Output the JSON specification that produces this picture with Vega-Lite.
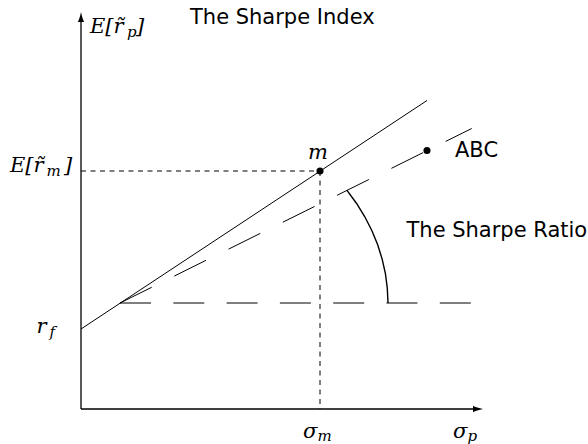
{
  "$schema": "https://vega.github.io/schema/vega-lite/v6.json",
  "width": 588,
  "height": 444,
  "autosize": {"type": "none"},
  "padding": 0,
  "background": "white",
  "config": {"view": {"stroke": null}},
  "datasets": {
    "axes": [
      {"axis": "vertical", "o": 0, "x": 0, "y": 0},
      {"axis": "vertical", "o": 1, "x": 0, "y": 389},
      {"axis": "horizontal", "o": 0, "x": 0, "y": 0},
      {"axis": "horizontal", "o": 1, "x": 394, "y": 0}
    ],
    "arrowheads": [
      {"axis": "vertical", "x": 0, "y": 397},
      {"axis": "horizontal", "x": 402, "y": 0}
    ],
    "capitalMarketLine": [
      {"o": 0, "x": 0, "y": 80},
      {"o": 1, "x": 346, "y": 308.5}
    ],
    "abcLine": [
      {"o": 0, "x": 39, "y": 106},
      {"o": 1, "x": 390.7, "y": 280.5}
    ],
    "riskFreeLevel": [
      {"o": 0, "x": 39, "y": 106},
      {"o": 1, "x": 390.7, "y": 106}
    ],
    "guides": [
      {"guide": "return", "o": 0, "x": 0, "y": 238},
      {"guide": "return", "o": 1, "x": 239, "y": 238},
      {"guide": "risk", "o": 0, "x": 239, "y": 238},
      {"guide": "risk", "o": 1, "x": 239, "y": 0}
    ],
    "angleArc": [
      {"o": 0, "x": 307, "y": 106},
      {"o": 1, "x": 306.3, "y": 120.8},
      {"o": 2, "x": 304.4, "y": 135.5},
      {"o": 3, "x": 301.1, "y": 150.1},
      {"o": 4, "x": 296.6, "y": 164.4},
      {"o": 5, "x": 290.8, "y": 178.5},
      {"o": 6, "x": 283.8, "y": 192.2},
      {"o": 7, "x": 275.6, "y": 205.5},
      {"o": 8, "x": 265.8, "y": 218.9}
    ],
    "portfolios": [
      {"name": "m", "x": 239, "y": 238},
      {"name": "ABC", "x": 346, "y": 258.5}
    ],
    "sansLeft": [
      {"text": "The Sharpe Index", "x": 109, "y": 385},
      {"text": "ABC", "x": 374, "y": 252},
      {"text": "The Sharpe Ratio", "x": 325.5, "y": 172}
    ],
    "mathCenter": [
      {"text": "m", "x": 237, "y": 250}
    ],
    "mathMain": [
      {"text": "E[r\u0303", "x": 9, "y": 376},
      {"text": "]", "x": 55, "y": 376},
      {"text": "E[r\u0303", "x": -71, "y": 237},
      {"text": "]", "x": -17, "y": 237},
      {"text": "r", "x": -44.5, "y": 76},
      {"text": "\u03c3", "x": 222, "y": -29},
      {"text": "\u03c3", "x": 372, "y": -29}
    ],
    "mathSub": [
      {"text": "p", "x": 46, "y": 372},
      {"text": "m", "x": -34.5, "y": 233},
      {"text": "f", "x": -31.5, "y": 72},
      {"text": "m", "x": 236.5, "y": -32},
      {"text": "p", "x": 386.5, "y": -32}
    ]
  },
  "encoding": {
    "x": {"field": "x", "type": "quantitative", "scale": {"domain": [-81, 507], "nice": false, "zero": false}, "axis": null},
    "y": {"field": "y", "type": "quantitative", "scale": {"domain": [-35, 409], "nice": false, "zero": false}, "axis": null}
  },
  "layer": [
    {
      "data": {"name": "axes"},
      "mark": {"type": "line", "color": "black", "strokeWidth": 1.3},
      "encoding": {"detail": {"field": "axis"}, "order": {"field": "o"}}
    },
    {
      "data": {"name": "arrowheads"},
      "transform": [{"filter": "datum.axis === 'vertical'"}],
      "mark": {"type": "point", "shape": "M0,0C0.8,4 2,8 3.2,10L-3.2,10C-2,8 -0.8,4 0,0Z", "size": 4, "filled": true, "color": "black", "opacity": 1, "strokeWidth": 0, "angle": 0}
    },
    {
      "data": {"name": "arrowheads"},
      "transform": [{"filter": "datum.axis === 'horizontal'"}],
      "mark": {"type": "point", "shape": "M0,0C0.8,4 2,8 3.2,10L-3.2,10C-2,8 -0.8,4 0,0Z", "size": 4, "filled": true, "color": "black", "opacity": 1, "strokeWidth": 0, "angle": 90}
    },
    {
      "data": {"name": "capitalMarketLine"},
      "mark": {"type": "line", "color": "black", "strokeWidth": 1},
      "encoding": {"order": {"field": "o"}}
    },
    {
      "data": {"name": "abcLine"},
      "mark": {"type": "line", "color": "black", "strokeWidth": 1, "strokeDash": [35.4, 25.2]},
      "encoding": {"order": {"field": "o"}}
    },
    {
      "data": {"name": "riskFreeLevel"},
      "mark": {"type": "line", "color": "black", "strokeWidth": 1, "strokeDash": [31, 22.3]},
      "encoding": {"order": {"field": "o"}}
    },
    {
      "data": {"name": "guides"},
      "mark": {"type": "line", "color": "black", "strokeWidth": 1, "strokeDash": [5, 4.5]},
      "encoding": {"detail": {"field": "guide"}, "order": {"field": "o"}}
    },
    {
      "data": {"name": "angleArc"},
      "mark": {"type": "line", "color": "black", "strokeWidth": 1.4},
      "encoding": {"order": {"field": "o"}}
    },
    {
      "data": {"name": "portfolios"},
      "mark": {"type": "point", "shape": "circle", "size": 50, "filled": true, "color": "black", "opacity": 1, "strokeWidth": 0}
    },
    {
      "data": {"name": "sansLeft"},
      "mark": {"type": "text", "align": "left", "baseline": "alphabetic", "font": "DejaVu Sans", "fontSize": 21, "color": "black"},
      "encoding": {"text": {"field": "text"}}
    },
    {
      "data": {"name": "mathCenter"},
      "mark": {"type": "text", "align": "center", "baseline": "alphabetic", "font": "DejaVu Serif", "fontStyle": "italic", "fontSize": 21, "color": "black"},
      "encoding": {"text": {"field": "text"}}
    },
    {
      "data": {"name": "mathMain"},
      "mark": {"type": "text", "align": "left", "baseline": "alphabetic", "font": "DejaVu Serif", "fontStyle": "italic", "fontSize": 21, "color": "black"},
      "encoding": {"text": {"field": "text"}}
    },
    {
      "data": {"name": "mathSub"},
      "mark": {"type": "text", "align": "left", "baseline": "alphabetic", "font": "DejaVu Serif", "fontStyle": "italic", "fontSize": 15, "color": "black"},
      "encoding": {"text": {"field": "text"}}
    }
  ]
}
